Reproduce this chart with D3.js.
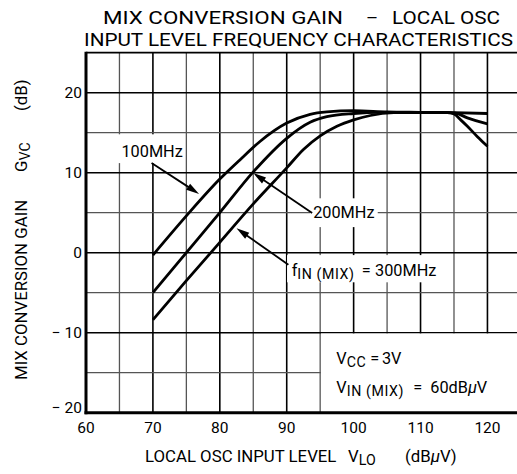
<!DOCTYPE html>
<html>
<head>
<meta charset="utf-8">
<script src="https://cdn.jsdelivr.net/npm/d3@7"></script>
<style>
  body { margin: 0; background: #fff; }
  svg { display: block; }
  text { font-family: Roboto, "Liberation Sans", Arial, sans-serif; fill: #000; }
</style>
</head>
<body>
<svg id="chart" width="517" height="474"></svg>
<script>
// Local oscillator input level (dBµV) and mixer conversion gain (dB) per input frequency
const vlo100  = [70, 75, 80, 83, 86, 90, 93.5, 96, 100, 105, 110, 115, 120];
const gain100 = [-0.3, 4.6, 9.2, 11.6, 13.9, 16.2, 17.3, 17.6, 17.75, 17.6, 17.55, 17.5, 17.4];

const vlo200  = [70, 75, 80, 85, 90, 93.5, 96, 100, 104, 110, 114, 115.2, 117, 120];
const gain200 = [-5, 0, 5, 10.1, 14.3, 16.3, 17.0, 17.4, 17.55, 17.5, 17.5, 17.45, 16.85, 16.1];

const vlo300  = [70, 75, 80, 85, 90, 92.5, 95, 97.5, 100, 102.5, 106, 110, 114, 115, 116, 117, 118.5, 120];
const gain300 = [-8.4, -3.5, 1.3, 6.1, 10.6, 12.9, 14.6, 15.8, 16.6, 17.15, 17.5, 17.55, 17.5, 17.35, 16.6, 15.8, 14.5, 13.3];

const xTicks = [60, 70, 80, 90, 100, 110, 120];
const yTicks = [-20, -10, 0, 10, 20];
const yTickLabels = ["\u2212 20", "\u2212 10", "0", "10", "20"];

const svg = d3.select("#chart");
const x = d3.scaleLinear().domain([60, 125]).range([86, 520.9]);
const y = d3.scaleLinear().domain([-20, 25]).range([412.7, 52.7]);

const [x0, x1] = x.range();
const [yB, yT] = y.range();

// grid: 5-unit spacing, heavier every 10
const grid = svg.append("g");
d3.range(65, 126, 5).forEach(v => {
  grid.append("line")
    .attr("x1", x(v)).attr("x2", x(v)).attr("y1", yT).attr("y2", yB)
    .attr("stroke", v % 10 === 0 ? "#000" : "#555")
    .attr("stroke-width", v % 10 === 0 ? 1.6 : 1.3);
});
d3.range(-15, 25, 5).forEach(v => {
  grid.append("line")
    .attr("x1", x0).attr("x2", x1).attr("y1", y(v)).attr("y2", y(v))
    .attr("stroke", v % 10 === 0 ? "#000" : "#555")
    .attr("stroke-width", v % 10 === 0 ? 1.6 : 1.3);
});

// white panels behind labels
function panel(xa, xb, ya, yb) {
  svg.append("rect")
    .attr("x", x(xa)).attr("y", y(ya))
    .attr("width", x(xb) - x(xa)).attr("height", y(yb) - y(ya))
    .attr("fill", "#fff");
}
panel(64.5, 74.6, 14.8, 11.2);     // 100MHz
panel(93.5, 103.6, 6.8, 3.2);      // 200MHz
panel(90.05, 113.8, -0.3, -3.7);   // 300MHz
// condition box (grid lines at 95 and -10 remain as its edges)
svg.append("rect")
  .attr("x", x(95) + 0.8).attr("y", y(-10) + 0.8)
  .attr("width", x1 - x(95)).attr("height", yB - y(-10))
  .attr("fill", "#fff");

// frame
svg.append("line").attr("x1", x0).attr("x2", x1).attr("y1", yT).attr("y2", yT)
  .attr("stroke", "#000").attr("stroke-width", 1.8);
svg.append("line").attr("x1", x0).attr("x2", x0).attr("y1", yT - 0.9).attr("y2", yB + 1.5)
  .attr("stroke", "#000").attr("stroke-width", 3);
svg.append("line").attr("x1", x0 - 1.5).attr("x2", x1).attr("y1", yB).attr("y2", yB)
  .attr("stroke", "#000").attr("stroke-width", 3);

// curves
const line = d3.line().x(d => x(d[0])).y(d => y(d[1])).curve(d3.curveMonotoneX);
[[vlo100, gain100], [vlo200, gain200], [vlo300, gain300]].forEach(([xs, ys]) => {
  svg.append("path")
    .attr("d", line(xs.map((v, i) => [v, ys[i]])))
    .attr("fill", "none").attr("stroke", "#000")
    .attr("stroke-width", 2.8).attr("stroke-linejoin", "round");
});

// leader arrows
function arrow(from, to) {
  const ax = x(from[0]), ay = y(from[1]), bx = x(to[0]), by = y(to[1]);
  const len = Math.hypot(bx - ax, by - ay);
  const ux = (bx - ax) / len, uy = (by - ay) / len;
  const hl = 13, hw = 3.6;
  const cx = bx - ux * hl, cy = by - uy * hl;
  svg.append("line").attr("x1", ax).attr("y1", ay).attr("x2", cx + ux).attr("y2", cy + uy)
    .attr("stroke", "#000").attr("stroke-width", 1.8);
  svg.append("path")
    .attr("d", `M${bx},${by}L${cx - uy * hw},${cy + ux * hw}L${cx + uy * hw},${cy - ux * hw}Z`)
    .attr("fill", "#000");
}
arrow([69.8, 11.2], [76.9, 7.35]);
arrow([93.8, 4.95], [85.0, 9.95]);
arrow([90.25, -1.5], [82.5, 3.05]);

// text with a subscript, each piece placed at its own offset from the start
function subText(xStart, yBase, parts) {
  const t = svg.append("text").attr("y", yBase).attr("font-size", lblSize);
  parts.forEach(p => {
    const s = t.append("tspan").attr("x", xStart + p.dx).attr("y", yBase + (p.sub ? 3 : 0)).text(p.text);
    if (p.sub) s.attr("font-size", subSize).attr("letter-spacing", 0.6);
  });
  return t;
}

// series labels
const lblSize = 16.3, subSize = 14.2;
svg.append("text").attr("x", x(65.3)).attr("y", y(12.0)).attr("font-size", lblSize).text("100MHz");
svg.append("text").attr("x", x(93.95)).attr("y", y(4.3)).attr("font-size", lblSize).text("200MHz");
subText(x(90.75), y(-2.85), [
  { dx: 0, text: "f" },
  { dx: 5.5, text: "IN (MIX)", sub: true },
  { dx: 70, text: "=" },
  { dx: 83.3, text: "300MHz" }
]);

// operating conditions
subText(x(97.4), y(-13.9), [
  { dx: 0, text: "V" },
  { dx: 10.5, text: "CC", sub: true },
  { dx: 34, text: "=" },
  { dx: 45.7, text: "3V" }
]);
const c2 = subText(x(97.4), y(-17.5), [
  { dx: 0, text: "V" },
  { dx: 10.5, text: "IN (MIX)", sub: true },
  { dx: 77, text: "=" },
  { dx: 94, text: "60dB" }
]);
c2.append("tspan").attr("font-style", "italic").text("\u03bc");
c2.append("tspan").text("V");

// tick labels
svg.append("g").selectAll("text").data(xTicks).join("text")
  .attr("x", d => x(d)).attr("y", 433).attr("text-anchor", "middle")
  .attr("font-size", 15.5).text(d => d);
svg.append("g").selectAll("text").data(yTicks).join("text")
  .attr("x", 82).attr("y", d => d === -20 ? y(d) : y(d) + 5.5).attr("text-anchor", "end")
  .attr("font-size", 15.5).text((d, i) => yTickLabels[i]);

// axis titles
const titleSize = 16.8;
const xt = svg.append("g").attr("font-size", titleSize);
xt.append("text").attr("x", 145).attr("y", 461.5).text("LOCAL OSC INPUT LEVEL");
const vlo = xt.append("text").attr("x", 348).attr("y", 461.5);
vlo.append("tspan").text("V");
vlo.append("tspan").attr("font-size", subSize).attr("dy", 3).text("LO");
const unitX = xt.append("text").attr("x", 405).attr("y", 461.5);
unitX.append("tspan").text("(dB");
unitX.append("tspan").attr("font-style", "italic").text("\u03bc");
unitX.append("tspan").text("V)");

const yt = svg.append("g").attr("font-size", titleSize);
yt.append("text").attr("transform", "translate(26.5,380) rotate(-90)").text("MIX CONVERSION GAIN");
const gvc = yt.append("text").attr("transform", "translate(26.5,172) rotate(-90)");
gvc.append("tspan").text("G");
gvc.append("tspan").attr("font-size", subSize).attr("dy", 3).text("VC");
yt.append("text").attr("transform", "translate(26.5,111) rotate(-90)").text("(dB)");

// chart title
const ttl = svg.append("g").attr("font-size", 18.5);
ttl.append("text").attr("x", 103).attr("y", 24.3)
  .attr("textLength", 240).attr("lengthAdjust", "spacingAndGlyphs")
  .text("MIX CONVERSION GAIN");
ttl.append("text").attr("x", 372).attr("y", 24.3).attr("text-anchor", "middle").text("\u2013");
ttl.append("text").attr("x", 392).attr("y", 24.3)
  .attr("textLength", 108).attr("lengthAdjust", "spacingAndGlyphs")
  .text("LOCAL OSC");
ttl.append("text").attr("x", 84).attr("y", 46)
  .attr("textLength", 429).attr("lengthAdjust", "spacingAndGlyphs")
  .text("INPUT LEVEL FREQUENCY CHARACTERISTICS");
</script>
</body>
</html>
